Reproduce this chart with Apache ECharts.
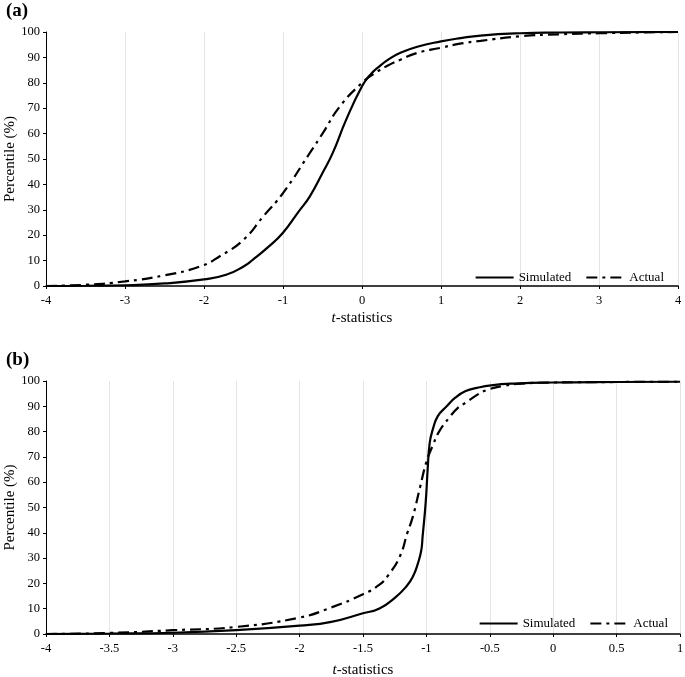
<!DOCTYPE html>
<html>
<head>
<meta charset="utf-8">
<script src="https://cdn.jsdelivr.net/npm/echarts@6/dist/echarts.min.js"></script>
<style>
  html, body { margin: 0; padding: 0; background: #fff; }
  #main { width: 685px; height: 677px; }
</style>
</head>
<body>
<div id="main"></div>
<script>
// (a) t-statistics, simulated vs actual
var aSimX = [-4, -3.5, -3, -2.5, -2, -1.72, -1.5, -1.38, -1.2, -1, -0.8, -0.66, -0.5, -0.37, -0.2, 0, 0.1, 0.22, 0.35, 0.48, 0.7, 1, 1.25, 1.5, 2, 2.5, 3, 4];
var aSimY = [0, 0.1, 0.3, 1.0, 2.6, 4.4, 7.7, 10.4, 15, 21, 29.4, 35.3, 44.5, 52.4, 65.5, 78.6, 83, 86.5, 89.5, 91.7, 94.2, 96.3, 97.6, 98.6, 99.5, 99.8, 99.9, 100];
var aActX = [-4, -3.5, -3, -2.5, -2.05, -1.8, -1.5, -1.25, -1, -0.66, -0.5, -0.28, 0, 0.15, 0.31, 0.5, 0.69, 1, 1.24, 1.5, 2, 2.5, 3, 3.5, 4];
var aActY = [0, 0.5, 1.8, 4.2, 7.7, 11.7, 18.2, 27.4, 36.6, 52.4, 60, 70.7, 80, 83.5, 86.5, 89.3, 91.7, 93.8, 95.4, 96.5, 98.3, 99.1, 99.5, 99.8, 100];

// (b)
var bSimX = [-4, -3.5, -3, -2.5, -2, -1.75, -1.5, -1.37, -1.24, -1.16, -1.107, -1.067, -1.04, -1.03, -1.006, -0.99, -0.974, -0.95, -0.91, -0.84, -0.77, -0.69, -0.6, -0.49, -0.3, 0, 0.5, 1];
var bSimY = [0, 0.2, 0.5, 1.5, 3.3, 4.8, 8.2, 10.1, 14.7, 18.7, 22.6, 27.9, 33.2, 38.5, 51.7, 65, 75.5, 80.8, 86.1, 90, 93.5, 96, 97.3, 98.3, 99.0, 99.4, 99.6, 99.7];
var bActX = [-4, -3.5, -3, -2.5, -2, -1.75, -1.5, -1.37, -1.3, -1.21, -1.15, -1.107, -1.05, -1.0, -0.95, -0.9, -0.82, -0.75, -0.69, -0.6, -0.53, -0.4, -0.25, 0, 0.5, 1];
var bActY = [0, 0.4, 1.5, 2.8, 6.5, 10.5, 15.7, 19.5, 23.3, 30.6, 40, 46.4, 58, 68, 74.5, 80, 85.5, 89.5, 91.4, 94.5, 96.3, 98, 99, 99.4, 99.6, 99.7];

var seriesNames = ['Simulated', 'Actual'];
var panelLabels = ['(a)', '(b)'];

function pairs(xs, ys) {
    var out = [];
    for (var i = 0; i < xs.length; i++) {
        out.push([xs[i], ys[i]]);
    }
    return out;
}

var font = 'Liberation Serif';
var dashDot = [11, 5, 3, 5];

function xAxisFor(idx, min, max, interval, gap) {
    return {
        type: 'value', gridIndex: idx, min: min, max: max, interval: interval,
        name: '{i|t}-statistics', nameLocation: 'middle', nameGap: gap, nameMoveOverlap: false,
        nameTextStyle: {
            fontFamily: font, fontSize: 15, color: '#000',
            rich: { i: { fontFamily: font, fontSize: 15, fontStyle: 'italic', color: '#000' } }
        },
        axisLine: { onZero: false, lineStyle: { color: '#000', width: 1.5 } },
        axisTick: { show: true, length: 3, lineStyle: { color: '#000' } },
        axisLabel: { fontFamily: font, fontSize: 12.5, color: '#000', margin: 8 },
        splitLine: { show: true, lineStyle: { color: '#e4e4e4', width: 1 } }
    };
}

function yAxisFor(idx) {
    return {
        type: 'value', gridIndex: idx, min: 0, max: 100, interval: 10,
        name: 'Percentile (%)', nameLocation: 'middle', nameGap: 28, nameMoveOverlap: false,
        nameTextStyle: { fontFamily: font, fontSize: 15, color: '#000' },
        axisLine: { show: true, onZero: false, lineStyle: { color: '#000', width: 1 } },
        axisTick: { show: true, length: 3, lineStyle: { color: '#000' } },
        axisLabel: { fontFamily: font, fontSize: 12.5, color: '#000', margin: 6 },
        splitLine: { show: false }
    };
}

function lineSeries(name, data, idx, dashed) {
    return {
        name: name, type: 'line', xAxisIndex: idx, yAxisIndex: idx,
        data: data, symbol: 'none', smooth: 0.5,
        lineStyle: { color: '#000', width: 2.2, type: dashed ? dashDot : 'solid' },
        itemStyle: { color: '#000' }
    };
}

function legendFor(right, top) {
    return {
        data: seriesNames, right: right, top: top, itemWidth: 38, itemHeight: 12, itemGap: 14,
        itemStyle: { opacity: 0 },
        textStyle: { fontFamily: font, fontSize: 13, color: '#000' }
    };
}

var myChart = echarts.init(document.getElementById('main'));

var option = {
    animation: false,
    backgroundColor: '#fff',
    grid: [
        { left: 46, top: 32, width: 632, height: 254, outerBoundsMode: 'none' },
        { left: 46, top: 381, width: 634, height: 253, outerBoundsMode: 'none' }
    ],
    xAxis: [xAxisFor(0, -4, 4, 1, 25), xAxisFor(1, -4, 1, 0.5, 29)],
    yAxis: [yAxisFor(0), yAxisFor(1)],
    legend: [legendFor(16, 266), legendFor(12, 612)],
    graphic: [
        { type: 'text', left: 6, top: 2, style: { text: panelLabels[0], font: 'bold 19px "Liberation Serif"', fill: '#000' } },
        { type: 'text', left: 6, top: 351, style: { text: panelLabels[1], font: 'bold 19px "Liberation Serif"', fill: '#000' } }
    ],
    series: [
        lineSeries(seriesNames[0], pairs(aSimX, aSimY), 0, false),
        lineSeries(seriesNames[1], pairs(aActX, aActY), 0, true),
        lineSeries(seriesNames[0], pairs(bSimX, bSimY), 1, false),
        lineSeries(seriesNames[1], pairs(bActX, bActY), 1, true)
    ]
};

myChart.setOption(option);
</script>
</body>
</html>
